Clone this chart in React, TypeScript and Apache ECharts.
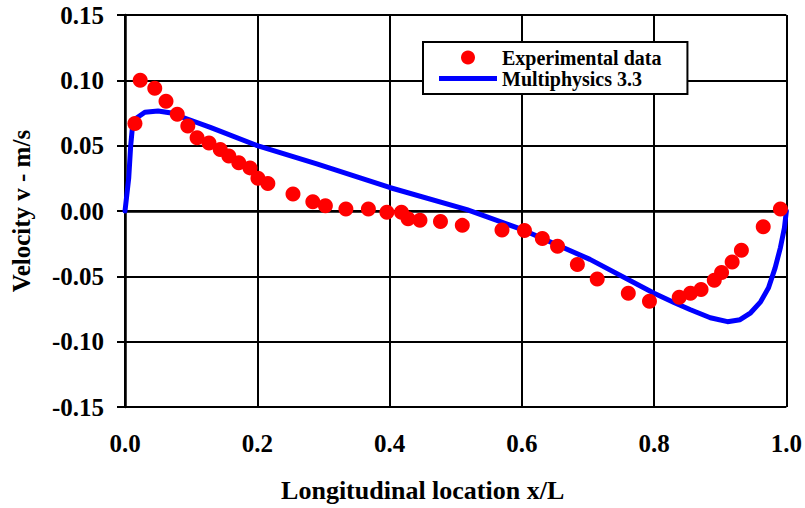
import React, { useEffect, useRef } from "react";
import * as echarts from "echarts";

const expX = [0.015, 0.023, 0.045, 0.062, 0.079, 0.095, 0.109, 0.127, 0.144, 0.157, 0.172, 0.189, 0.201, 0.216, 0.254, 0.284, 0.303, 0.334, 0.368, 0.396, 0.418, 0.428, 0.446, 0.477, 0.510, 0.570, 0.604, 0.631, 0.654, 0.684, 0.714, 0.761, 0.793, 0.838, 0.855, 0.871, 0.891, 0.902, 0.918, 0.932, 0.965, 0.991];
const expY = [0.067, 0.100, 0.094, 0.084, 0.074, 0.065, 0.056, 0.052, 0.047, 0.042, 0.037, 0.033, 0.025, 0.021, 0.013, 0.007, 0.004, 0.0015, 0.0015, -0.001, -0.001, -0.006, -0.007, -0.008, -0.011, -0.0145, -0.015, -0.021, -0.027, -0.041, -0.052, -0.063, -0.069, -0.066, -0.063, -0.060, -0.053, -0.047, -0.039, -0.030, -0.012, 0.0015];

const simX = [0, 0.0056, 0.0086, 0.011, 0.017, 0.030, 0.050, 0.070, 0.091, 0.129, 0.2, 0.29, 0.4, 0.517, 0.602, 0.703, 0.8, 0.83, 0.855, 0.885, 0.911, 0.930, 0.946, 0.961, 0.973, 0.983, 0.991, 0.997, 1.0];
const simY = [0, 0.025, 0.050, 0.063, 0.071, 0.0756, 0.0766, 0.075, 0.071, 0.064, 0.050, 0.036, 0.018, 0.001, -0.0145, -0.037, -0.063, -0.070, -0.0756, -0.0817, -0.0847, -0.0832, -0.0779, -0.0695, -0.0588, -0.0435, -0.028, -0.013, 0];

const seriesNames = ["Experimental data", "Multiphysics 3.3"];
const xAxisTitle = "Longitudinal location x/L";
const yAxisTitle = "Velocity v - m/s";

const FONT = "'Liberation Serif', 'Times New Roman', serif";
const LINE_ICON = "path://M0,0 M0,4.5 L58,4.5 L58,9.5 L0,9.5 Z M58,14";

export default function App() {
  const ref = useRef<HTMLDivElement>(null);
  useEffect(() => {
    if (!ref.current) return;
    const chart = echarts.init(ref.current, undefined, { renderer: "svg" });
    chart.setOption({
      animation: false,
      backgroundColor: "#ffffff",
      grid: { left: 125, right: 18, top: 15, bottom: 100, containLabel: false },
      legend: {
        left: 423,
        top: 42,
        orient: "vertical",
        backgroundColor: "#ffffff",
        borderColor: "#000000",
        borderWidth: 2,
        borderRadius: 0,
        padding: [5, 26, 5, 16],
        itemGap: 0,
        itemWidth: 58,
        itemHeight: 14,
        textStyle: { fontFamily: FONT, fontWeight: "bold", fontSize: 20, color: "#000", lineHeight: 21 },
        data: [
          { name: seriesNames[0], icon: "circle", itemStyle: { color: "#ff0000", opacity: 1 } },
          { name: seriesNames[1], icon: LINE_ICON, itemStyle: { color: "#0000ff", borderWidth: 0 } },
        ],
      },
      xAxis: {
        type: "value",
        min: 0,
        max: 1,
        interval: 0.2,
        name: xAxisTitle,
        nameLocation: "middle",
        nameGap: 70,
        nameTextStyle: { fontFamily: FONT, fontWeight: "bold", fontSize: 26, color: "#000", padding: [0, 66, 0, 0] },
        axisLine: { show: true, lineStyle: { color: "#000", width: 2.5 } },
        axisTick: { show: false },
        axisLabel: {
          fontFamily: FONT,
          fontWeight: "bold",
          fontSize: 25,
          color: "#000",
          margin: 24,
          formatter: (v: number) => v.toFixed(1),
        },
        splitLine: { show: true, lineStyle: { color: "#000", width: 2 } },
      },
      yAxis: {
        type: "value",
        min: -0.15,
        max: 0.15,
        interval: 0.05,
        name: yAxisTitle,
        nameLocation: "middle",
        nameGap: 91,
        nameTextStyle: { fontFamily: FONT, fontWeight: "bold", fontSize: 25, color: "#000" },
        axisLine: { show: true, onZero: false, lineStyle: { color: "#000", width: 2.5 } },
        axisTick: { show: true, inside: false, length: 8, lineStyle: { color: "#000", width: 2 } },
        axisLabel: {
          fontFamily: FONT,
          fontWeight: "bold",
          fontSize: 25,
          color: "#000",
          margin: 21,
          formatter: (v: number) => (Math.abs(v) < 1e-9 ? "0.00" : v.toFixed(2)),
        },
        splitLine: { show: true, lineStyle: { color: "#000", width: 2 } },
      },
      series: [
        {
          name: seriesNames[0],
          type: "scatter",
          symbol: "circle",
          symbolSize: 15,
          itemStyle: { color: "#ff0000", opacity: 1 },
          data: expX.map((x, i) => [x, expY[i]]),
          z: 3,
        },
        {
          name: seriesNames[1],
          type: "line",
          symbol: "none",
          smooth: false,
          lineStyle: { color: "#0000ff", width: 5, join: "round", cap: "round" },
          itemStyle: { color: "#0000ff" },
          data: simX.map((x, i) => [x, simY[i]]),
          z: 2,
        },
      ],
    });
    return () => chart.dispose();
  }, []);
  return <div ref={ref} style={{ width: 805, height: 508, position: "fixed", left: 0, top: 0 }} />;
}
